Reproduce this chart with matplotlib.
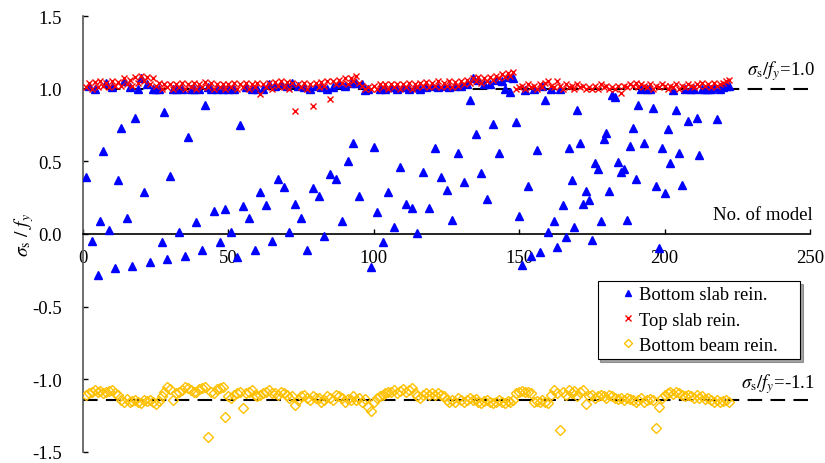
import matplotlib
matplotlib.use('Agg')
import matplotlib.pyplot as plt
import numpy as np

plt.rcParams['font.family'] = ['Liberation Serif', 'DejaVu Serif']
plt.rcParams['mathtext.fontset'] = 'stix'

# model number on the x axis
model = np.arange(1, 223)

# stress ratio sigma_s / f_y of the bottom slab reinforcement
slab_bottom = [
    0.39, 1.02, -0.045, 0.995, -0.28, 0.09, 0.57, 1.04, 0.03, 1.01,
    -0.236, 0.37, 0.727, 1.05, 0.11, 1.01, -0.22, 0.80, 1.0, 1.07,
    0.29, 1.03, -0.19, 1.0, 1.0, 1.0, -0.057, 0.837, -0.174, 0.40,
    1.0, 1.0, 0.016, 1.0, -0.149, 0.665, 1.0, 1.0, 0.08, 1.0,
    -0.11, 0.887, 1.01, 1.0, 0.16, 1.0, -0.057, 1.0, 0.175, 1.0,
    0.016, 1.0, -0.155, 0.75, 0.19, 1.01, 0.113, 1.0, -0.11, 1.0,
    0.287, 1.0, 0.20, 1.03, -0.045, 1.02, 0.378, 1.03, 0.326, 1.02,
    0.016, 1.04, 0.209, 1.02, 0.113, 1.01, -0.11, 1.0, 0.316, 1.02,
    0.26, 1.01, -0.016, 1.0, 0.413, 1.01, 0.378, 1.03, 0.09, 1.02,
    0.50, 1.04, 0.624, 1.04, 0.26, 1.03, 0.99, 1.0, -0.229, 0.60,
    0.15, 1.0, -0.055, 1.0, 0.29, 1.01, 0.048, 1.0, 0.458, 1.01,
    0.204, 1.0, 0.18, 1.01, 0.01, 1.0, 0.43, 1.01, 0.18, 1.02,
    0.59, 1.01, 0.395, 1.02, 0.30, 1.01, 0.096, 1.02, 0.56, 1.02,
    0.36, 1.03, 0.92, 1.07, 0.686, 1.06, 0.42, 1.035, 0.24, 1.03,
    0.757, 1.06, 0.56, 1.055, 1.0, 1.08, 0.98, 1.075, 0.77, 0.127,
    -0.21, 0.99, 0.33, -0.148, 1.0, 0.576, -0.126, 1.02, 0.924, 0.016,
    1.0, 0.087, -0.09, 1.0, 0.197, -0.02, 0.59, 0.37, 0.048, 0.853,
    0.624, 0.204, 0.294, 0.232, -0.04, 0.49, 0.45, 0.087, 0.656, 0.697,
    0.294, 0.956, 0.945, 0.495, 0.426, 0.445, 0.096, 0.608, 0.727, 0.378,
    0.885, 1.0, 0.624, 1.0, 1.0, 0.87, 0.33, -0.094, 0.59, 0.285,
    0.72, 0.488, 0.99, 0.853, 0.56, 0.34, 1.0, 0.775, 1.0, 1.0,
    0.80, 0.546, 1.0, 1.0, 1.0, 1.0, 1.01, 0.79, 1.0, 1.01,
    1.02, 1.02,
]

# top slab reinforcement
slab_top = [
    1.01, 1.04, 1.0, 1.045, 1.01, 1.05, 1.02, 1.04, 1.01, 1.05,
    1.02, 1.045, 1.02, 1.07, 1.03, 1.06, 1.02, 1.08, 1.04, 1.09,
    1.05, 1.08, 1.03, 1.07, 1.02, 1.04, 1.0, 1.03, 1.01, 1.035,
    1.0, 1.03, 1.01, 1.04, 1.0, 1.03, 1.01, 1.04, 1.0, 1.03,
    1.01, 1.045, 1.01, 1.04, 1.0, 1.035, 1.01, 1.03, 1.0, 1.035,
    1.01, 1.04, 1.0, 1.035, 1.01, 1.04, 1.0, 1.03, 1.01, 1.04,
    0.963, 1.035, 1.01, 1.04, 1.0, 1.045, 1.02, 1.05, 1.01, 1.045,
    1.0, 1.04, 0.846, 1.035, 1.01, 1.04, 1.0, 1.035, 0.88, 1.04,
    1.01, 1.045, 1.02, 1.05, 0.93, 1.05, 1.03, 1.06, 1.04, 1.07,
    1.03, 1.07, 1.05, 1.085, 1.04, 1.02, 1.0, 1.01, 1.0, 1.02,
    1.0, 1.03, 1.01, 1.035, 1.0, 1.03, 1.01, 1.035, 1.0, 1.03,
    1.01, 1.04, 1.0, 1.035, 1.01, 1.04, 1.02, 1.045, 1.01, 1.04,
    1.02, 1.05, 1.01, 1.04, 1.02, 1.05, 1.01, 1.045, 1.02, 1.05,
    1.03, 1.06, 1.04, 1.07, 1.05, 1.08, 1.04, 1.07, 1.05, 1.08,
    1.06, 1.09, 1.07, 1.10, 1.08, 1.11, 1.09, 1.117, 1.0, 1.01,
    1.02, 1.0, 1.03, 1.01, 1.02, 1.0, 1.03, 1.01, 1.04, 1.055,
    1.02, 1.01, 1.05, 1.02, 1.0, 1.03, 1.01, 1.02, 1.0, 1.03,
    1.01, 1.02, 1.0, 1.01, 1.0, 1.02, 1.0, 1.03, 1.01, 1.02,
    1.0, 1.01, 1.0, 1.02, 0.97, 1.02, 1.01, 1.03, 1.02, 1.04,
    1.01, 1.03, 1.02, 1.01, 1.03, 1.0, 1.02, 1.01, 1.03, 1.02,
    1.0, 1.02, 1.01, 1.03, 1.0, 1.02, 1.01, 1.03, 1.02, 1.01,
    1.03, 1.02, 1.04, 1.02, 1.03, 1.01, 1.04, 1.02, 1.03, 1.04,
    1.05, 1.06,
]

# bottom beam reinforcement (compression, negative)
beam_bottom = [
    -1.107, -1.096, -1.084, -1.073, -1.089, -1.080, -1.096, -1.084, -1.080, -1.073,
    -1.096, -1.107, -1.141, -1.153, -1.135, -1.153, -1.146, -1.141, -1.153, -1.162,
    -1.141, -1.148, -1.141, -1.153, -1.171, -1.148, -1.118, -1.084, -1.050, -1.066,
    -1.141, -1.096, -1.084, -1.073, -1.050, -1.061, -1.073, -1.089, -1.084, -1.066,
    -1.057, -1.050, -1.398, -1.084, -1.096, -1.066, -1.057, -1.050, -1.256, -1.118,
    -1.130, -1.107, -1.096, -1.084, -1.199, -1.096, -1.084, -1.073, -1.107, -1.118,
    -1.107, -1.096, -1.084, -1.073, -1.096, -1.096, -1.107, -1.084, -1.096, -1.107,
    -1.130, -1.118, -1.176, -1.141, -1.118, -1.107, -1.130, -1.141, -1.118, -1.130,
    -1.125, -1.153, -1.141, -1.118, -1.130, -1.141, -1.107, -1.118, -1.130, -1.153,
    -1.135, -1.141, -1.118, -1.141, -1.130, -1.153, -1.135, -1.187, -1.217, -1.153,
    -1.130, -1.118, -1.107, -1.096, -1.084, -1.084, -1.073, -1.096, -1.080, -1.066,
    -1.084, -1.073, -1.061, -1.096, -1.118, -1.130, -1.107, -1.096, -1.107, -1.096,
    -1.107, -1.096, -1.107, -1.118, -1.141, -1.153, -1.141, -1.153, -1.130, -1.141,
    -1.153, -1.141, -1.130, -1.141, -1.135, -1.153, -1.164, -1.148, -1.141, -1.153,
    -1.164, -1.153, -1.141, -1.153, -1.164, -1.148, -1.153, -1.141, -1.096, -1.089,
    -1.080, -1.089, -1.084, -1.096, -1.153, -1.148, -1.153, -1.141, -1.153, -1.164,
    -1.107, -1.073, -1.096, -1.348, -1.084, -1.107, -1.073, -1.096, -1.080, -1.118,
    -1.089, -1.073, -1.169, -1.118, -1.107, -1.130, -1.118, -1.107, -1.118, -1.130,
    -1.107, -1.118, -1.130, -1.135, -1.125, -1.141, -1.130, -1.135, -1.141, -1.153,
    -1.141, -1.130, -1.153, -1.141, -1.135, -1.141, -1.332, -1.192, -1.130, -1.107,
    -1.096, -1.089, -1.102, -1.084, -1.096, -1.107, -1.118, -1.107, -1.112, -1.125,
    -1.107, -1.130, -1.118, -1.135, -1.125, -1.141, -1.153, -1.141, -1.153, -1.148,
    -1.141, -1.153,
]

ref_levels = [1.0, -1.14]
ref_labels = [r'$\sigma_{\mathrm{s}}/f_{y}$=1.0', r'$\sigma_{\mathrm{s}}/f_{y}$=-1.1']
ref_label_y = [1.126, -1.027]

fig = plt.figure(figsize=(8.25, 4.64), dpi=100)
ax = fig.add_axes([83 / 825, 11 / 464, 727 / 825, 436 / 464])

for lvl in ref_levels:
    ax.plot([0, 250], [lvl, lvl], color='black', lw=1.5, dashes=(7, 4), zorder=1)

ax.plot(model, slab_bottom, ls='none', marker='^', ms=5.5, color='#0000FF',
        mec='#0000FF', label='Bottom slab rein.', zorder=3)
ax.plot(model, slab_top, ls='none', marker='x', ms=5, mew=1.0, color='#FF0000',
        label='Top slab rein.', zorder=3)
ax.plot(model, beam_bottom, ls='none', marker='D', ms=4.6, mew=1.0, mfc='none',
        mec='#FFC000', label='Bottom beam rein.', zorder=3)

ax.set_xlim(0, 250)
ax.set_ylim(-1.5, 1.5)
ax.set_xticks(np.arange(0, 251, 50))
ax.set_yticks(np.arange(-1.5, 1.51, 0.5))
ax.yaxis.set_major_formatter(matplotlib.ticker.FormatStrFormatter('%.1f'))

ax.spines['top'].set_visible(False)
ax.spines['right'].set_visible(False)
ax.spines['bottom'].set_position(('data', 0))
ax.spines['bottom'].set_linewidth(1.2)
ax.spines['left'].set_color('#555555')
ax.spines['left'].set_linewidth(1.2)

ax.tick_params(axis='both', direction='in', length=3.6, width=1, labelsize=13.5)
ax.tick_params(axis='x', pad=11)
ax.tick_params(axis='y', pad=15, colors='black')

ax.set_ylabel(r'$\sigma_{\mathrm{s}}\ /\ f_{y}$', fontsize=14)
ax.yaxis.set_label_coords(-0.064, 0.5)

for txt, ty in zip(ref_labels, ref_label_y):
    ax.text(251.7, ty, txt, ha='right', va='center', fontsize=13.5, clip_on=False)
ax.text(251.0, 0.135, 'No. of model', ha='right', va='center', fontsize=13.5)

# legend box stretched to a fixed width; negative text pad pulls the
# labels back toward the markers
leg = ax.legend(loc='upper left', bbox_to_anchor=(0.708, 0.2156, 0.278, 0.1765),
                mode='expand', fontsize=13.3,
                fancybox=False, shadow=True, framealpha=1, edgecolor='black',
                markerscale=0.8, handlelength=2.76, handletextpad=-0.78,
                labelspacing=0.45, borderpad=0.28, borderaxespad=0)
leg.get_frame().set_linewidth(0.8)

fig.savefig('out.png', dpi=100)
